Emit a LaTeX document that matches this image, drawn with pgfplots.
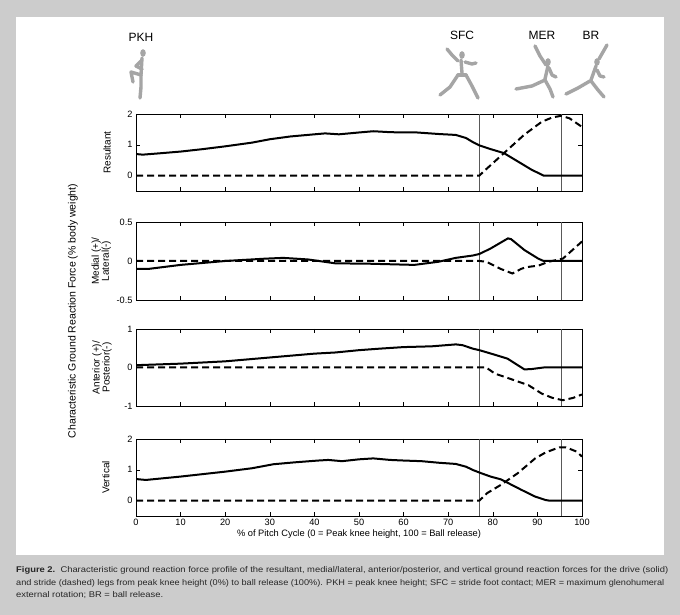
\documentclass[border=0pt]{standalone}
\usepackage{pgfplots}
\pgfplotsset{compat=1.18}
\usepackage{fontspec}
\setmainfont{Liberation Sans}
\definecolor{bggray}{RGB}{204,204,204}
\definecolor{figgray}{RGB}{165,165,165}
\pgfplotsset{
  myax/.style={
    scale only axis, width=446pt, height=77pt,
    xmin=0, xmax=100, xtick={0,10,...,100},
    tick align=inside, xtick pos=both, ytick pos=both,
    major tick length=4pt,
    axis line style={line width=0.6pt},
    every tick/.style={black, line width=0.5pt},
    ticklabel style={font=\fontsize{9.2}{10}\selectfont},
    /pgf/number format/assume math mode=true,
    ylabel style={font=\fontsize{10}{10}\selectfont, align=center, anchor=center},
    clip=true,
  },
  solidl/.style={black, line width=2pt},
  dashl/.style={black, line width=2pt, dash pattern=on 7pt off 4pt},
  vline/.style={black!65, line width=0.6pt},
}
\newcommand{\capline}[2]{\resizebox{#1}{\height}{\fontsize{8.3}{10}\selectfont #2}}
\begin{document}
\begin{tikzpicture}[x=1pt,y=1pt]
\fill[bggray] (0,0) rectangle (680,615);
\fill[white] (16,60) rectangle (664,598);

% ---------- Resultant ----------
\begin{axis}[myax, at={(136pt,424pt)}, anchor=south west,
  ymin=-0.5, ymax=2, ytick={0,1,2}, yticklabels={0,1,2}, xticklabels={},
  ylabel={Resultant}, ylabel style={at={(axis description cs:-0.065,0.5)}}]
\addplot[vline] coordinates {(77,-0.5) (77,2)};
\addplot[vline] coordinates {(95.4,-0.5) (95.4,2)};
\addplot[solidl] coordinates {(0,0.70) (1.5,0.68) (5,0.72) (10,0.78) (15,0.86) (20,0.95) (26,1.07) (30,1.18) (34.6,1.27) (40,1.34) (42.4,1.37) (45.5,1.34) (50,1.40) (53.2,1.44) (57,1.41) (60,1.40) (63,1.40) (67.9,1.35) (71.7,1.32) (74,1.22) (75.6,1.08) (77,0.98) (79.5,0.86) (82.5,0.73) (85.6,0.46) (88.7,0.19) (91.4,0) (100,0)};
\addplot[dashl] coordinates {(0,0) (77,0) (78,0.14) (82.5,0.73) (87,1.32) (91,1.75) (93.4,1.89) (95.3,1.94) (97.2,1.86) (100,1.58)};
\end{axis}

% ---------- Medial/Lateral ----------
\begin{axis}[myax, at={(136pt,315pt)}, anchor=south west, height=78pt,
  ymin=-0.5, ymax=0.5, ytick={-0.5,0,0.5}, yticklabels={-0.5,0,0.5}, xticklabels={},
  ylabel={Medial (+)/\\Lateral(-)}, ylabel style={at={(axis description cs:-0.078,0.5)}}]
\addplot[vline] coordinates {(77,-0.5) (77,0.5)};
\addplot[vline] coordinates {(95.4,-0.5) (95.4,0.5)};
\addplot[solidl] coordinates {(0,-0.10) (3,-0.10) (10,-0.05) (20,0) (29,0.03) (33,0.04) (38.5,0.02) (44.7,-0.03) (52.4,-0.035) (62.4,-0.05) (67.8,-0.01) (71.7,0.04) (75.5,0.07) (77,0.09) (79.5,0.16) (83.4,0.29) (84.1,0.28) (87.1,0.14) (90.2,0.03) (91.4,0) (100,0)};
\addplot[dashl] coordinates {(0,0) (77,0) (78.6,-0.01) (81.7,-0.10) (84.4,-0.16) (86.4,-0.10) (87.5,-0.08) (88.7,-0.07) (90.2,-0.06) (92.5,-0.01) (95.7,0.03) (100,0.25)};
\end{axis}

% ---------- Anterior/Posterior ----------
\begin{axis}[myax, at={(136pt,209pt)}, anchor=south west,
  ymin=-1, ymax=1, ytick={-1,0,1}, yticklabels={-1,0,1}, xticklabels={},
  ylabel={Anterior (+)/\\Posterior(-)}, ylabel style={at={(axis description cs:-0.076,0.5)}}]
\addplot[vline] coordinates {(77,-1) (77,1)};
\addplot[vline] coordinates {(95.4,-1) (95.4,1)};
\addplot[solidl] coordinates {(0,0.06) (10,0.10) (20,0.16) (30,0.26) (40,0.36) (44.7,0.39) (50,0.45) (54.7,0.49) (60,0.53) (66.3,0.55) (71.7,0.60) (73.2,0.58) (75.5,0.49) (77,0.45) (80.2,0.34) (83.3,0.23) (85.6,0.06) (87.1,-0.05) (88.7,-0.04) (91.4,0) (100,0)};
\addplot[dashl] coordinates {(0,0) (78.5,0) (80.5,-0.16) (83.3,-0.27) (88,-0.46) (91,-0.68) (93.4,-0.79) (95.7,-0.85) (98,-0.79) (100,-0.70)};
\end{axis}

% ---------- Vertical ----------
\begin{axis}[myax, at={(136pt,99pt)}, anchor=south west,
  ymin=-0.5, ymax=2, ytick={0,1,2}, yticklabels={0,1,2},
  xlabel={\% of Pitch Cycle (0 = Peak knee height, 100 = Ball release)},
  xlabel style={font=\fontsize{9.3}{10}\selectfont, yshift=3pt},
  ylabel={Vertical}, ylabel style={at={(axis description cs:-0.068,0.5)}}]
\addplot[vline] coordinates {(77,-0.5) (77,2)};
\addplot[vline] coordinates {(95.4,-0.5) (95.4,2)};
\addplot[solidl] coordinates {(0,0.70) (2.2,0.67) (10,0.78) (20,0.94) (26,1.05) (30.8,1.18) (35.4,1.24) (40.8,1.30) (43.1,1.32) (46.2,1.28) (50,1.34) (53.2,1.37) (57,1.32) (60.1,1.30) (64,1.28) (67.8,1.23) (71.7,1.19) (74,1.10) (75.6,0.99) (77,0.91) (79.5,0.78) (81.8,0.69) (83.3,0.58) (86.4,0.35) (89.5,0.13) (91.8,0.02) (92.6,0) (100,0)};
\addplot[dashl] coordinates {(0,0) (77,0) (78.7,0.24) (81.8,0.51) (85.6,0.89) (89.5,1.37) (91.8,1.56) (94.9,1.73) (96.4,1.73) (98.8,1.59) (100,1.43)};
\end{axis}

\begin{scope}[shift={(0,615)}, yscale=-1]
% big y label
\node[rotate=90, font=\fontsize{10.5}{12}\selectfont] at (73,311) {Characteristic Ground Reaction Force (\% body weight)};
% phase labels
\node[font=\fontsize{12}{12}\selectfont] at (141,37) {PKH};
\node[font=\fontsize{12}{12}\selectfont] at (462,35) {SFC};
\node[font=\fontsize{12}{12}\selectfont] at (542,35) {MER};
\node[font=\fontsize{12}{12}\selectfont] at (591,35) {BR};
% simple mannequins
\begin{scope}[figgray, line width=3.4pt, line cap=round, line join=round]
% PKH
\fill (143,53) ellipse (2.8 and 3.8);
\draw (142,58) -- (141,75);
\draw (141,61) -- (136,66) -- (142,69);
\draw (141,75) -- (131,72) -- (133,82);
\draw (141,75) -- (141,87) -- (140,98);
% SFC
\fill (462,55) ellipse (2.8 and 3.8);
\draw (461,60) -- (462,73);
\draw (458,61) -- (452,55) -- (447,49);
\draw (465,62) -- (472,64) -- (476,63);
\draw (458,75) -- (466,75);
\draw (458,75) -- (450,87) -- (440,95);
\draw (466,75) -- (472,86) -- (478,98);
% MER
\fill (548,62) ellipse (2.8 and 3.8);
\draw (546,65) -- (540,56) -- (535,46);
\draw (548,66) -- (545,79);
\draw (549,68) -- (552,75) -- (556,77);
\draw (545,80) -- (532,86) -- (516,89);
\draw (545,80) -- (550,89) -- (553,97);
% BR
\fill (597,62) ellipse (2.8 and 3.8);
\draw (599,59) -- (603,52) -- (607,45);
\draw (596,66) -- (591,80);
\draw (597,70) -- (600,76) -- (604,77);
\draw (590,81) -- (578,88) -- (566,94);
\draw (591,81) -- (598,90) -- (604,97);
\end{scope}
% caption
\begin{scope}[every node/.style={anchor=base west, inner sep=0pt, text=black!85}]
\node at (16,573) {\capline{652pt}{\textbf{Figure 2.}\ \ Characteristic ground reaction force profile of the resultant, medial/lateral, anterior/posterior, and vertical ground reaction forces for the drive (solid)}};
\node at (16,586) {\capline{648pt}{and stride (dashed) legs from peak knee height (0\%) to ball release (100\%). PKH = peak knee height; SFC = stride foot contact; MER = maximum glenohumeral}};
\node at (16,598) {\capline{147pt}{external rotation; BR = ball release.}};
\end{scope}
\end{scope}
\end{tikzpicture}
\end{document}
